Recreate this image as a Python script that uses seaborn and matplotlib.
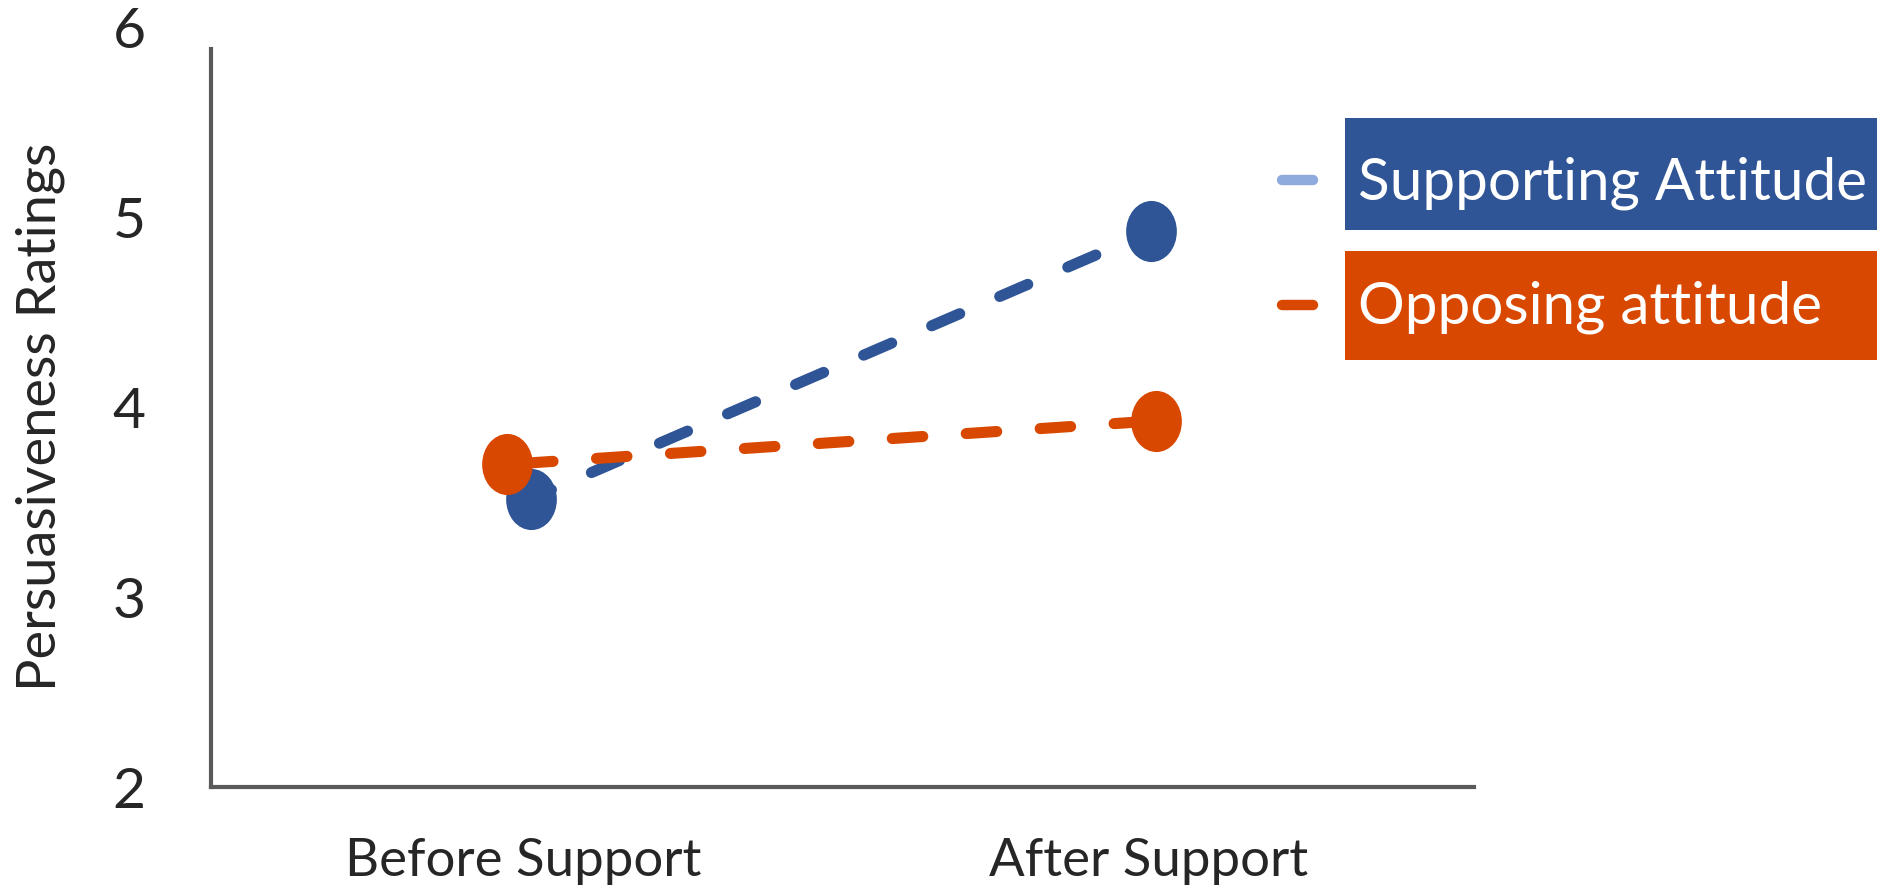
import matplotlib
matplotlib.use("Agg")
import matplotlib.pyplot as plt
from matplotlib.path import Path
from matplotlib.transforms import Affine2D
from matplotlib.patches import Rectangle
from matplotlib.lines import Line2D
import pandas as pd
import seaborn as sns

# ---- data -------------------------------------------------------------
conditions = ["Before Support", "After Support"]
series = ["Supporting Attitude", "Opposing attitude"]
supporting = [3.52, 4.93]
opposing = [3.70, 3.93]
y_ticks = [2, 3, 4, 5, 6]

# ---- styling ----------------------------------------------------------
line_colors = {"Supporting Attitude": "#2F5597", "Opposing attitude": "#D94801"}
handle_colors = {"Supporting Attitude": "#8FAADC", "Opposing attitude": "#D94801"}
# slight horizontal nudge per point so overlapping markers stay visible
x_nudge = {"Supporting Attitude": [0.012, 0.004], "Opposing attitude": [-0.026, 0.012]}
# dash pattern (in linewidths) and its phase for each series
dash_offset = {"Supporting Attitude": 0.76, "Opposing attitude": 5.3}
dash_pattern = (2.75, 3.92)
axis_grey = "#595959"

sns.set_theme(style="white")
plt.rcParams["font.family"] = ["Lato", "DejaVu Sans"]

rows = []
for name, vals in zip(series, [supporting, opposing]):
    for i, (cond, v) in enumerate(zip(conditions, vals)):
        rows.append({"attitude": name, "condition": cond, "rating": v,
                     "x": i + x_nudge[name][i]})
df = pd.DataFrame(rows)

W, H = 1895, 894
fig = plt.figure(figsize=(W / 100, H / 100), dpi=100)
ax = fig.add_axes([211 / W, 1 - 787 / H, (1474 - 211) / W, (787 - 28) / H])

# tall ellipse marker
ellipse = Path.unit_circle().transformed(Affine2D().scale(0.83, 1.0))

for k, name in enumerate(series):
    sub = df[df["attitude"] == name]
    sns.lineplot(data=sub, x="x", y="rating", color=line_colors[name], lw=8,
                 estimator=None, sort=False, ax=ax, zorder=2 + 2 * k, legend=False)
    ln = ax.lines[-1]
    ln.set_linestyle((dash_offset[name], dash_pattern))
    ln.set_dash_capstyle("round")
    sns.scatterplot(data=sub, x="x", y="rating", color=line_colors[name],
                    marker=ellipse, s=44 ** 2, linewidth=0, ax=ax,
                    zorder=3 + 2 * k, legend=False)

ax.set_xlim(-0.5, 1.52)
ax.set_ylim(2, 6)
ax.set_xticks(range(len(conditions)))
ax.set_xticklabels(conditions, fontsize=38)
ax.set_yticks(y_ticks)
ax.set_yticklabels([str(t) for t in y_ticks], fontsize=41)
ax.tick_params(axis="x", length=0, pad=37)
ax.tick_params(axis="y", length=0, pad=47)
ax.set_xlabel("")
ax.set_ylabel("Persuasiveness Ratings", fontsize=39)
ax.yaxis.set_label_coords((65 - 211) / (1474 - 211), (787 - 417) / (787 - 28))

for side in ["top", "right"]:
    ax.spines[side].set_visible(False)
for side in ["left", "bottom"]:
    ax.spines[side].set_color(axis_grey)
    ax.spines[side].set_linewidth(3)
ax.spines["left"].set_bounds(2, 5.89)

# ---- legend: coloured label boxes with short line keys ----------------
boxes = [(118, 230, 199), (251, 360, 323)]
keys_y = [180, 305]
for name, (top, bottom, base), ky in zip(series, boxes, keys_y):
    fig.add_artist(Rectangle((1345 / W, 1 - bottom / H), (1877 - 1345) / W,
                             (bottom - top) / H, transform=fig.transFigure,
                             facecolor=line_colors[name], edgecolor="none"))
    fig.text(1358 / W, 1 - base / H, name, color="white", fontsize=42,
             va="baseline", ha="left")
    fig.add_artist(Line2D([1282 / W, 1313 / W], [1 - ky / H, 1 - ky / H],
                          transform=fig.transFigure, color=handle_colors[name],
                          lw=7.5, solid_capstyle="round"))

fig.savefig("out.png", dpi=100)
